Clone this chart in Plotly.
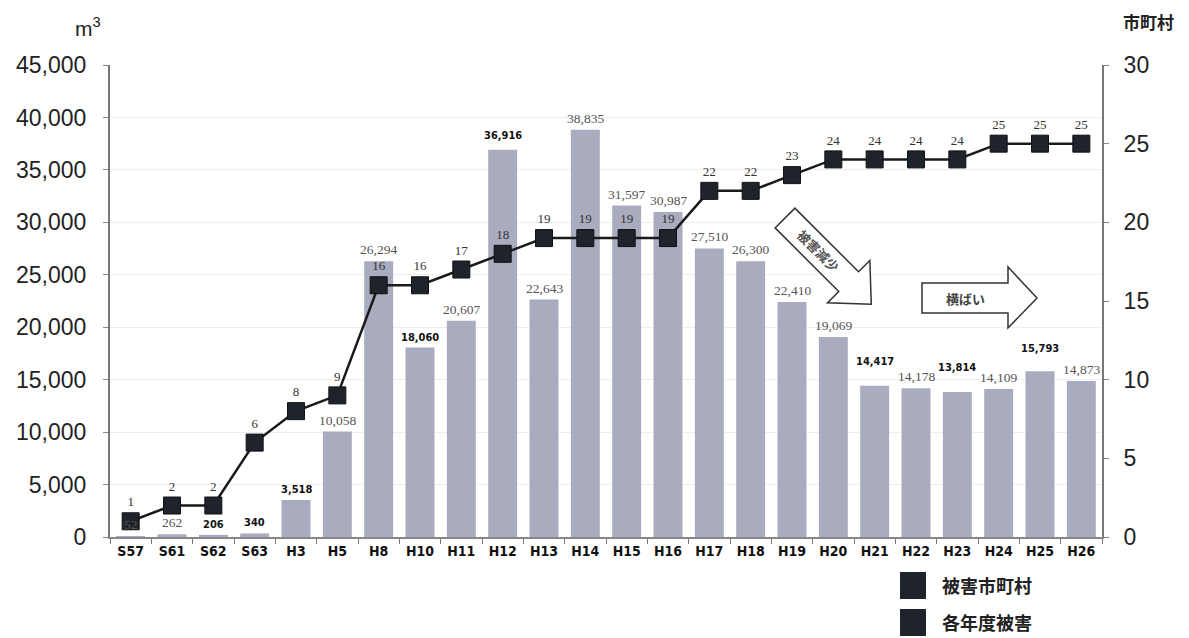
import math
import plotly.graph_objects as go

# Fiscal years (Showa / Heisei)
years = ["S57", "S61", "S62", "S63", "H3", "H5", "H8", "H10", "H11", "H12", "H13", "H14",
         "H15", "H16", "H17", "H18", "H19", "H20", "H21", "H22", "H23", "H24", "H25", "H26"]

# Annual damage volume (m3)
damage_m3 = [52, 262, 206, 340, 3518, 10058, 26294, 18060, 20607, 36916, 22643, 38835,
             31597, 30987, 27510, 26300, 22410, 19069, 14417, 14178, 13814, 14109, 15793, 14873]

# Number of affected municipalities
municipalities = [1, 2, 2, 6, 8, 9, 16, 16, 17, 18, 19, 19,
                  19, 19, 22, 22, 23, 24, 24, 24, 24, 25, 25, 25]

# Bar labels printed in bold black (others are grey)
bold_labels = {"S62", "S63", "H3", "H10", "H12", "H21", "H23", "H25"}
# Extra lift for staggered labels
label_lift = {"H21": 14, "H23": 14, "H25": 12, "H12": 4}

BAR_COLOR = "#a9abbe"
DARK = "#1f232b"

# plot-area geometry in pixels (for paper-coordinate decorations)
W, H = 1189, 638
L, R, T, B = 110, 1102, 65, 537


def px(x):
    return (x - L) / (R - L)


def py(y):
    return (B - y) / (B - T)


fig = go.Figure()

fig.add_trace(go.Bar(
    x=years, y=damage_m3, marker_color=BAR_COLOR, marker_line_width=0,
    name="各年度被害", yaxis="y", showlegend=False, hoverinfo="x+y",
))

fig.add_trace(go.Scatter(
    x=years, y=municipalities, yaxis="y2", mode="lines+markers+text",
    line=dict(color="#1a1a1a", width=2.5),
    marker=dict(symbol="square", size=17, color=DARK, line=dict(color="#111", width=1)),
    text=[str(v) for v in municipalities], textposition="top center",
    textfont=dict(family="Liberation Serif", size=13, color="#333"),
    name="被害市町村", showlegend=False,
))

annotations = []
for yr, v in zip(years, damage_m3):
    bold = yr in bold_labels
    annotations.append(dict(
        x=yr, y=v, xref="x", yref="y", text=f"{v:,}", showarrow=False,
        xanchor="center", yanchor="bottom", yshift=2 + label_lift.get(yr, 0),
        font=dict(family="DejaVu Sans Condensed, DejaVu Sans" if bold else "Liberation Serif",
                  size=11 if bold else 13.5,
                  color="#111" if bold else "#555",
                  weight="bold" if bold else "normal"),
    ))


def paper_text(x, y, text, font, **kw):
    d = dict(x=px(x), y=py(y), xref="paper", yref="paper", showarrow=False,
             xanchor="center", yanchor="middle", text=text, font=font)
    d.update(kw)
    annotations.append(d)


# axis unit titles
paper_text(88, 27, "m<sup>3</sup>", dict(family="Liberation Sans", size=21, color="#222"))
paper_text(1148, 22, "<b>市町村</b>", dict(family="Noto Sans CJK JP", size=17, color="#222"))

# legend entries
shapes = []
for ytop, label in [(572, "被害市町村"), (609, "各年度被害")]:
    shapes.append(dict(type="rect", xref="paper", yref="paper",
                       x0=px(900), x1=px(926), y0=py(ytop), y1=py(ytop + 27),
                       fillcolor=DARK, line=dict(width=0)))
    paper_text(940, ytop + 13, f"<b>{label}</b>",
               dict(family="Noto Sans CJK JP", size=18, color="#222"), xanchor="left")

# diagonal "decrease" arrow
tx, ty = 785, 218
ux, uy = math.cos(math.radians(45)), math.sin(math.radians(45))
nx, ny = ux, -uy
body_len, head_len, hw, HW = 90, 32, 14, 30
bx, by = tx + body_len * ux, ty + body_len * uy
pts = [
    (tx + hw * nx, ty + hw * ny),
    (bx + hw * nx, by + hw * ny),
    (bx + HW * nx, by + HW * ny),
    (bx + head_len * ux, by + head_len * uy),
    (bx - HW * nx, by - HW * ny),
    (bx - hw * nx, by - hw * ny),
    (tx - hw * nx, ty - hw * ny),
]
path = "M " + " L ".join(f"{px(x):.5f},{py(y):.5f}" for x, y in pts) + " Z"
shapes.append(dict(type="path", xref="paper", yref="paper", path=path,
                   fillcolor="white", line=dict(color="#333", width=1.5)))
paper_text(818, 251, "<b>被害減少</b>",
           dict(family="Noto Sans CJK JP", size=13, color="#555"), textangle=45)

# horizontal "flat" arrow
pts2 = [(922, 283), (1008, 283), (1008, 267), (1037, 298), (1008, 328), (1008, 313), (922, 313)]
path2 = "M " + " L ".join(f"{px(x):.5f},{py(y):.5f}" for x, y in pts2) + " Z"
shapes.append(dict(type="path", xref="paper", yref="paper", path=path2,
                   fillcolor="white", line=dict(color="#333", width=1.5)))
paper_text(965, 298, "<b>横ばい</b>", dict(family="Noto Sans CJK JP", size=13, color="#444"))

axis_font = dict(family="Liberation Sans", size=23, color="#222")

fig.update_layout(
    width=W, height=H,
    margin=dict(l=L, r=W - R, t=T, b=H - B),
    paper_bgcolor="white", plot_bgcolor="white",
    bargap=0.3,
    xaxis=dict(type="category", range=[-0.5, len(years) - 0.5],
               tickson="boundaries", ticks="outside", ticklen=5,
               tickcolor="#777", showline=True, linecolor="#888", linewidth=2,
               showgrid=False,
               tickfont=dict(family="DejaVu Sans Condensed, DejaVu Sans", size=14,
                             color="#111", weight="bold")),
    yaxis=dict(range=[0, 45000], dtick=5000, tickformat=",", ticks="outside", ticklen=5,
               tickcolor="#888", showline=True, linecolor="#777", linewidth=2,
               showgrid=True, gridcolor="#ededed", zeroline=False,
               ticklabelstandoff=12, tickfont=axis_font),
    yaxis2=dict(range=[0, 30], dtick=5, overlaying="y", side="right", ticks="outside",
                ticklen=5, tickcolor="#888", showline=True, linecolor="#777", linewidth=2,
                showgrid=False, zeroline=False, ticklabelstandoff=10, tickfont=axis_font),
    annotations=annotations,
    shapes=shapes,
)

fig.write_html("out.html")
